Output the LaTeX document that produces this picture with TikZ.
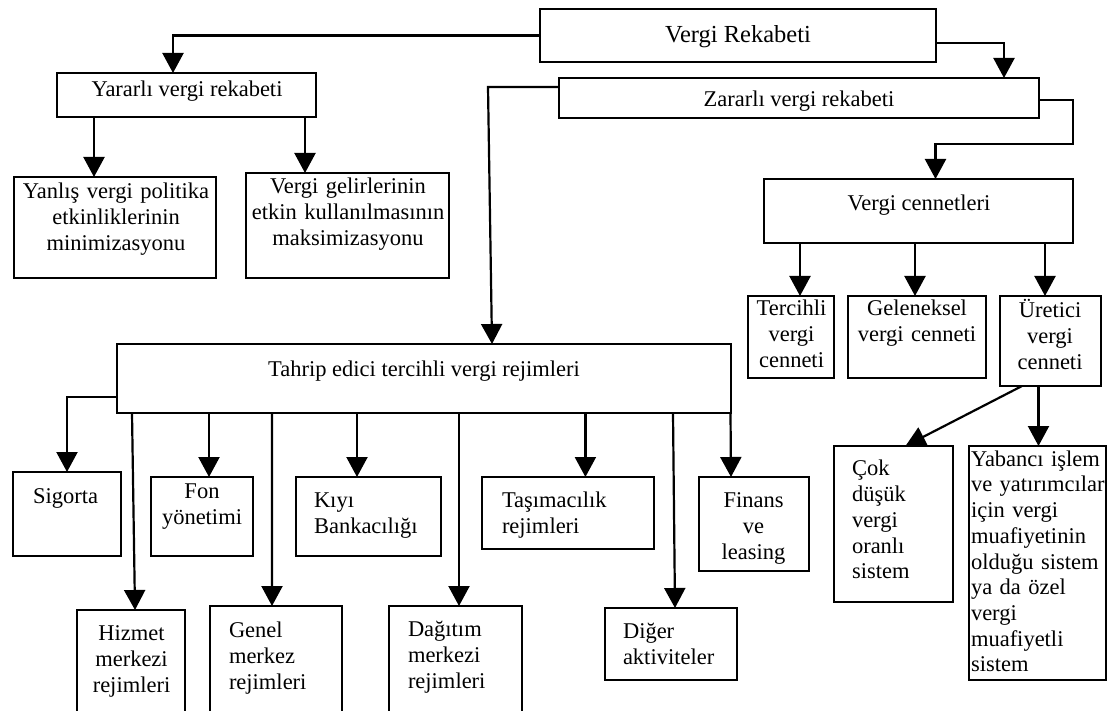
\documentclass[tikz,border=0pt]{standalone}
\usepackage{fontspec}
\setmainfont{Liberation Serif}
\usetikzlibrary{arrows.meta,calc}
\tikzset{
  box/.style={draw, line width=2pt, inner sep=0pt, outer sep=0pt, rectangle},
  arr/.style={line width=2.2pt, -{Triangle[width=21pt,length=20pt]}},
  txt/.style={inner sep=0pt, outer sep=0pt, font=\fontsize{22.5}{26}\selectfont},
  ctxt/.style={txt, text width=220pt, align=center, anchor=base},
  ltxt/.style={txt, text width=220pt, align=left, anchor=base west},
  stxt/.style={txt, anchor=base}
}
\newcommand\mybox[5]{\node[box, minimum width={(#4-#2)*1pt}, minimum height={(#5-#3)*1pt}] (#1) at ({(#2+#4)/2},{(#3+#5)/2}) {};}
\begin{document}
\begin{tikzpicture}[x=1pt,y=-1pt]
\useasboundingbox (0,0) rectangle (1109,711);
% boxes
\mybox{vr}{540}{9}{935.5}{62}
\mybox{yar}{57}{73}{316}{117}
\mybox{yan}{14}{177}{216}{278}
\mybox{gel}{246}{173}{449}{278}
\mybox{zar}{559}{78}{1039}{118}
\mybox{vc}{764}{179}{1073}{243}
\mybox{ter}{748}{296}{834}{378}
\mybox{gelen}{848}{296}{986}{378}
\mybox{ure}{1000}{296}{1101}{386}
\mybox{tah}{117}{344}{730.5}{413}
\mybox{sig}{13}{472}{121}{556}
\mybox{fon}{150.7}{477}{252.5}{556}
\mybox{kiy}{295.7}{477}{441}{556}
\mybox{tas}{482}{477}{653.6}{549}
\mybox{fin}{698.6}{477}{808.5}{571}
\mybox{hiz}{77}{610}{185}{714}
\mybox{gen}{210}{606}{341.7}{714}
\mybox{dag}{389.3}{606}{522}{714}
\mybox{dig}{605.3}{608}{736.7}{680}
\mybox{cok}{834}{446}{953}{602}
\mybox{yab}{969}{446}{1106}{680}
% texts
\node[stxt, font=\fontsize{24.5}{28}\selectfont] (t-vr) at (738,43) {Vergi Rekabeti};
\node[stxt] (t-yar) at (187,97) {Yararlı vergi rekabeti};
\node[stxt] (t-zar) at (799,107) {Zararlı vergi rekabeti};
\node[ctxt] (t-yan) at (116,199) {Yanlış vergi politika\\etkinliklerinin\\minimizasyonu};
\node[ctxt] (t-gel) at (348,194) {Vergi gelirlerinin\\etkin kullanılmasının\\maksimizasyonu};
\node[stxt] (t-vc) at (919,211) {Vergi cennetleri};
\node[ctxt] (t-ter) at (791.5,316) {Tercihli\\vergi\\cenneti};
\node[ctxt] (t-gelen) at (917,316) {Geleneksel\\vergi cenneti};
\node[ctxt] (t-ure) at (1050,318) {Üretici\\vergi\\cenneti};
\node[stxt] (t-tah) at (424,377) {Tahrip edici tercihli vergi rejimleri};
\node[stxt] (t-sig) at (65.5,503) {Sigorta};
\node[ctxt] (t-fon) at (202,498) {Fon\\yönetimi};
\node[ltxt] (t-kiy) at (314,507) {Kıyı\\Bankacılığı};
\node[ltxt] (t-tas) at (502,507) {Taşımacılık\\rejimleri};
\node[ctxt] (t-fin) at (753.5,507) {Finans\\ve\\leasing};
\node[ctxt] (t-hiz) at (131.5,640) {Hizmet\\merkezi\\rejimleri};
\node[ltxt] (t-gen) at (229,637) {Genel\\merkez\\rejimleri};
\node[ltxt] (t-dag) at (408,636) {Dağıtım\\merkezi\\rejimleri};
\node[ltxt] (t-dig) at (623,638) {Diğer\\aktiviteler};
\node[ltxt] (t-cok) at (852,475) {Çok\\düşük\\vergi\\oranlı\\sistem};
\node[ltxt, font=\fontsize{22.5}{25.75}\selectfont] (t-yab) at (971,466) {Yabancı işlem\\ve yatırımcılar\\için vergi\\muafiyetinin\\olduğu sistem\\ya da özel\\vergi\\muafiyetli\\sistem};
% connectors
\draw[arr] (vr.west) -| ([xshift=-13.5pt]yar.north);
\draw[arr] ([yshift=-7.5pt]vr.east) -| ([xshift=205pt]zar.north);
\coordinate (p1) at ([xshift=-92.5pt]yar.south);
\draw[arr] (p1) -- (p1 |- yan.north);
\coordinate (p2) at ([xshift=118.5pt]yar.south);
\draw[arr] (p2) -- (p2 |- gel.north);
\coordinate (zt) at (488,87);
\draw[arr] ([yshift=11pt]zar.west) -- (zt) -- ([xshift=68.25pt]tah.north);
\coordinate (zr) at (1073,144);
\draw[arr] ([yshift=-2pt]zar.east) -| (zr) -| ([xshift=17pt]vc.north);
\coordinate (p3) at ([xshift=-118.5pt]vc.south);
\draw[arr] (p3) -- (p3 |- ter.north);
\coordinate (p4) at ([xshift=-3.5pt]vc.south);
\draw[arr] (p4) -- (p4 |- gelen.north);
\coordinate (p5) at ([xshift=126.5pt]vc.south);
\draw[arr] (p5) -- (p5 |- ure.north);
\draw[arr] ([yshift=-18.5pt]tah.west) -| (sig.north);
\draw[arr] ([xshift=-291.75pt]tah.south) -- ([xshift=4pt]hiz.north);
\coordinate (p6) at ([xshift=-214.75pt]tah.south);
\draw[arr] (p6) -- (p6 |- fon.north);
\draw[arr] ([xshift=-151.75pt]tah.south) -- ([xshift=-3.85pt]gen.north);
\coordinate (p8) at ([xshift=-66.75pt]tah.south);
\draw[arr] (p8) -- (p8 |- kiy.north);
\draw[arr] ([xshift=35.25pt]tah.south) -- ([xshift=3.35pt]dag.north);
\coordinate (p9) at ([xshift=161.65pt]tah.south);
\draw[arr] (p9) -- (p9 |- tas.north);
\draw[arr] ([xshift=249.25pt]tah.south) -- ([xshift=4pt]dig.north);
\draw[arr] (tah.south east) -- ([xshift=-22.55pt]fin.north);
\draw[arr] ([xshift=-28.5pt]ure.south) -- ([xshift=12pt]cok.north);
\coordinate (p7) at ([xshift=-12pt]ure.south);
\draw[arr] (p7) -- (p7 |- yab.north);
\end{tikzpicture}
\end{document}
